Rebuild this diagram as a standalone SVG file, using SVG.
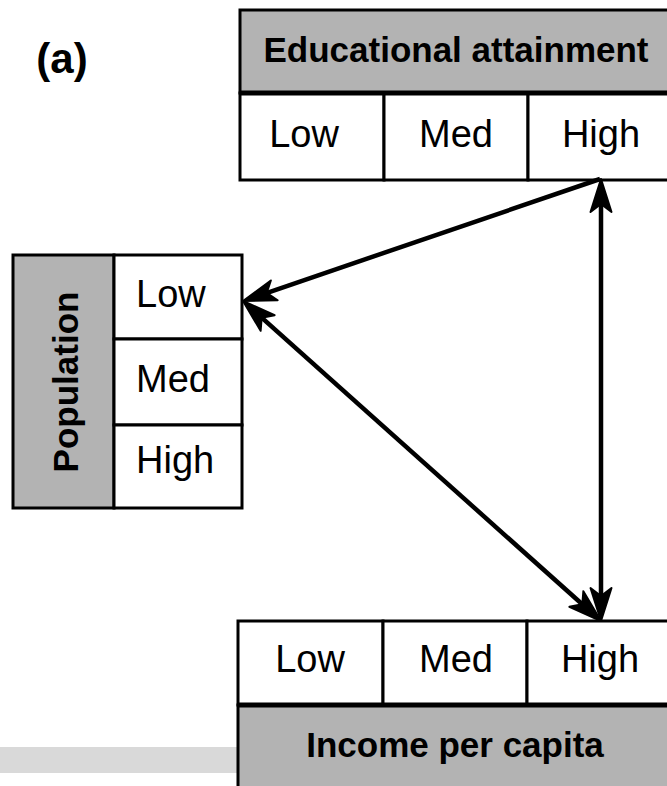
<svg xmlns="http://www.w3.org/2000/svg" width="667" height="786" viewBox="0 0 667 786">
<style>
.hdr{fill:#b3b3b3;stroke:#000;stroke-width:3}
.cell{fill:#fff;stroke:#000;stroke-width:3}
.sep{stroke:#000;stroke-width:5}
.t{font-family:"Liberation Sans",Arial,sans-serif;font-size:38px;fill:#000}
.b{font-family:"Liberation Sans",Arial,sans-serif;font-size:35px;font-weight:bold;fill:#000}
.c{text-anchor:middle}
.con{fill:none;stroke:#000;stroke-width:4.5}
</style>
<defs>
<marker id="ah" markerUnits="userSpaceOnUse" orient="auto-start-reverse" overflow="visible" markerWidth="10" markerHeight="10" refX="0" refY="0">
<path d="M6,0 L-27,-10.5 L-19,0 L-27,10.5 Z" fill="#000" stroke="#000" stroke-width="2" stroke-linejoin="round"/>
</marker>
</defs>
<rect x="0" y="747" width="238" height="26" fill="#d9d9d9"/>
<text x="62" y="73" class="b c" style="font-size:42px">(a)</text>
<g id="edu">
<rect class="hdr" x="240" y="10" width="440" height="83"/>
<text class="b c" x="456" y="62">Educational attainment</text>
<rect class="cell" x="240" y="93" width="144" height="87"/>
<rect class="cell" x="384" y="93" width="144" height="87"/>
<rect class="cell" x="528" y="93" width="150" height="87"/>
<line class="sep" x1="240" y1="93" x2="667" y2="93"/>
<text class="t c" x="304" y="147">Low</text>
<text class="t c" x="456" y="147">Med</text>
<text class="t c" x="601" y="147">High</text>
</g>
<g id="pop">
<rect class="hdr" x="13" y="255" width="101" height="253"/>
<text class="b c" transform="translate(78,382) rotate(-90)">Population</text>
<rect class="cell" x="114" y="255" width="128" height="84"/>
<rect class="cell" x="114" y="339" width="128" height="86"/>
<rect class="cell" x="114" y="425" width="128" height="83"/>
<text class="t" x="136" y="307">Low</text>
<text class="t" x="136" y="392">Med</text>
<text class="t" x="136" y="473">High</text>
</g>
<g id="income">
<rect class="cell" x="238" y="621" width="145" height="84"/>
<rect class="cell" x="383" y="621" width="144" height="84"/>
<rect class="cell" x="527" y="621" width="150" height="84"/>
<rect class="hdr" x="238" y="705" width="440" height="90"/>
<line class="sep" x1="238" y1="705" x2="667" y2="705"/>
<text class="t c" x="310" y="672">Low</text>
<text class="t c" x="456" y="672">Med</text>
<text class="t c" x="600" y="672">High</text>
<text class="b c" x="455" y="757">Income per capita</text>
</g>
<g id="connectors">
<line class="con" x1="600" y1="179" x2="248.7" y2="299.1" marker-end="url(#ah)"/>
<line class="con" x1="601" y1="185" x2="601" y2="615" marker-start="url(#ah)" marker-end="url(#ah)"/>
<line class="con" x1="247.5" y1="305" x2="596.5" y2="617" marker-start="url(#ah)" marker-end="url(#ah)"/>
</g>
</svg>
